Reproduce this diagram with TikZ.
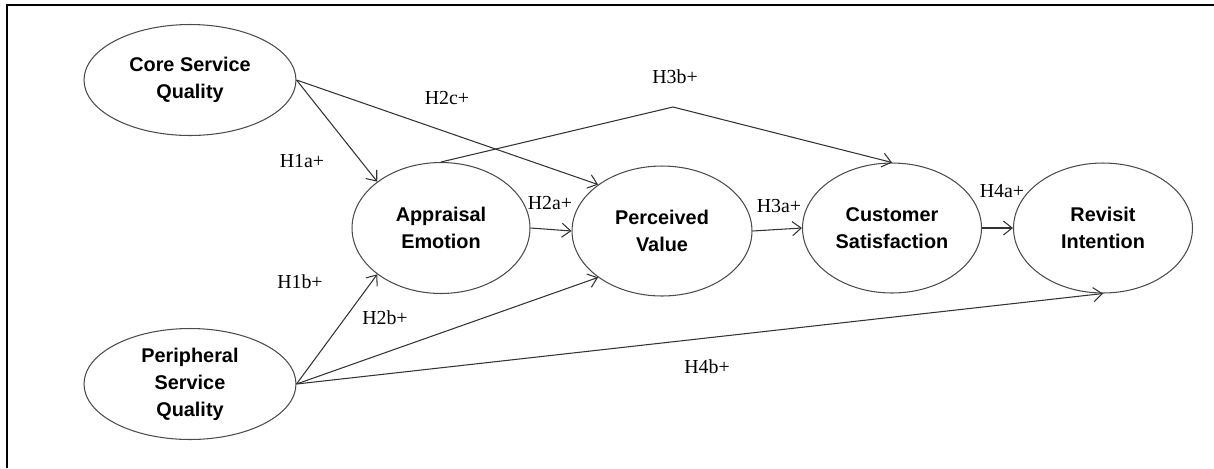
\documentclass[tikz,border=0pt]{standalone}
\usepackage{fontspec}
\setmainfont{Liberation Serif}
\newfontfamily\arialfont{Liberation Sans}
\usetikzlibrary{shapes.geometric,arrows.meta}

\begin{document}
\begin{tikzpicture}[x=0.02cm,y=-0.02cm,
  construct/.style={draw=black!70,line width=0.6pt,ellipse,inner sep=0pt,align=center,
    font=\arialfont\bfseries\fontsize{11.3}{15.4}\selectfont},
  hyp/.style={font=\fontsize{11.3}{13}\selectfont,inner sep=0pt},
  hypline/.style={draw=black!80,line width=0.6pt,-{Straight Barb[length=5pt,width=8pt]}}]
       \useasboundingbox (0,0) rectangle (1214,468);
       \draw[line width=1.2pt] (7,468) -- (7,5) -- (1214,5);
       % constructs
       \node[construct,minimum width=4.24cm,minimum height=2.22cm] (csq) at (190,80) {Core Service\\Quality};
       \node[construct,minimum width=4.24cm,minimum height=2.22cm] (psq) at (190,384) {Peripheral\\Service\\Quality};
       \node[construct,minimum width=3.56cm,minimum height=2.62cm] (ae) at (441,228) {Appraisal\\Emotion};
       \node[construct,minimum width=3.6cm,minimum height=2.6cm] (pv) at (662,231) {Perceived\\Value};
       \node[construct,minimum width=3.58cm,minimum height=2.6cm] (cs) at (892,228) {Customer\\Satisfaction};
       \node[construct,minimum width=3.58cm,minimum height=2.6cm] (ri) at (1103,228) {Revisit\\Intention};
       \coordinate (bend) at (673,107);
       % paths
       \draw[hypline] (csq.east) -- (ae.144); \draw[hypline] (csq.east) -- (pv.144);
       \draw[hypline] (psq.east) -- (ae.216); \draw[hypline] (psq.east) -- (pv.216);
       \draw[hypline] (psq.east) -- (ri.south); \draw[hypline] (ae.east) -- (pv.west);
       \draw[hypline] (pv.east) -- (cs.west); \draw[hypline] (cs.east) -- (ri.west);
       \draw[hypline] (ae.north) -- (bend) -- (cs.north);
       % hypotheses
       \node[hyp] (h1a) at (302,161) {H1a+}; \node[hyp] (h1b) at (300,282) {H1b+};
       \node[hyp] (h2a) at (550,203) {H2a+}; \node[hyp] (h2b) at (385,318) {H2b+};
       \node[hyp] (h2c) at (447,98) {H2c+}; \node[hyp] (h3a) at (779,206) {H3a+};
       \node[hyp] (h3b) at (675,77) {H3b+}; \node[hyp] (h4a) at (1002,191) {H4a+};
       \node[hyp] (h4b) at (707,367) {H4b+};
\end{tikzpicture}
\end{document}
